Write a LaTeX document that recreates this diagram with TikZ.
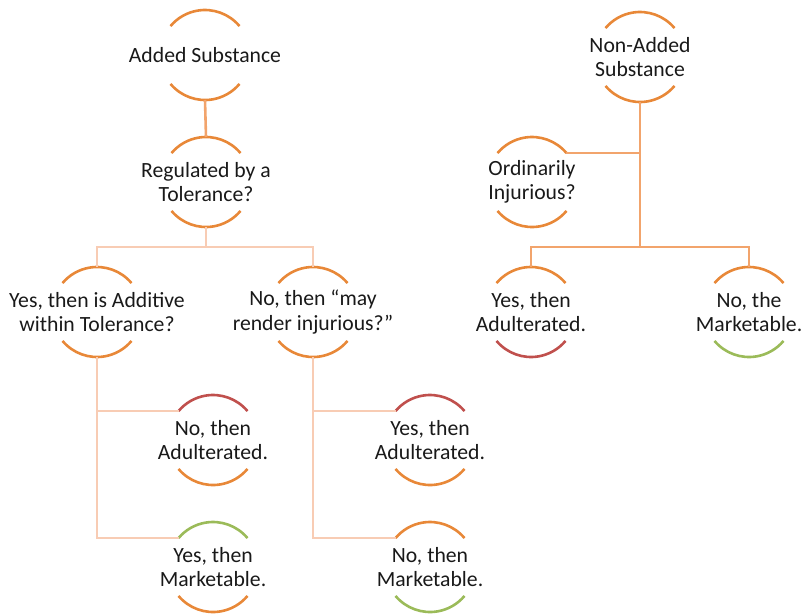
\documentclass[tikz,border=0pt]{standalone}
\usepackage{fontspec}
\setmainfont{Carlito}
\usetikzlibrary{calc}

\definecolor{ringorange}{RGB}{232,136,56}
\definecolor{ringred}{RGB}{192,80,77}
\definecolor{ringgreen}{RGB}{155,187,89}
\definecolor{linkmid}{RGB}{242,164,108}
\definecolor{linklight}{RGB}{248,204,180}
\definecolor{labelink}{RGB}{25,25,25}

\tikzset{
  label text/.style={align=center, text=labelink, inner sep=0pt,
    font=\fontsize{21.7}{24.5}\selectfont},
  ring arc/.style={line width=2.6pt},
  link/.style={line width=2.6pt, linkmid},
  link light/.style={line width=2.6pt, linklight},
}

% A label with an arc above and an arc below it, both parts of one circle of radius 45.
% Also defines the anchors name-top, name-bot, name-tl (upper left arc end), name-tr.
\newcommand\ringnode[5]{%
  \node[label text] (#1) at (#2) {#3};
  \draw[ring arc, #4] ($(#1.center)+(40:45)$) arc (40:140:45);
  \draw[ring arc, #5] ($(#1.center)+(220:45)$) arc (220:320:45);
  \coordinate (#1-top) at ($(#1.center)+(0,45)$);
  \coordinate (#1-bot) at ($(#1.center)+(0,-45)$);
  \coordinate (#1-tl) at ($(#1.center)+(140:45)$);
  \coordinate (#1-tr) at ($(#1.center)+(40:45)$);
}

\begin{document}
\begin{tikzpicture}[x=1pt, y=1pt]
\useasboundingbox (0,0) rectangle (802,-614);

% ---------- added substance ----------
\ringnode{add}{205,-55}{Added Substance}{ringorange}{ringorange}
\ringnode{reg}{206,-182}{Regulated by a\\Tolerance?}{ringorange}{ringorange}
\ringnode{yesadd}{97,-312}{Yes, then is Additive\\within Tolerance?}{ringorange}{ringorange}
\ringnode{nomay}{313,-312}{No, then \char"201C may\\render injurious?\char"201D}{ringorange}{ringorange}
\ringnode{noadul}{213,-440}{No, then\\Adulterated.}{ringred}{ringorange}
\ringnode{yesmkt}{213,-567}{Yes, then\\Marketable.}{ringgreen}{ringorange}
\ringnode{yesadulb}{430,-440}{Yes, then\\Adulterated.}{ringred}{ringorange}
\ringnode{nomkt}{430,-567}{No, then\\Marketable.}{ringorange}{ringgreen}

\coordinate (lbus) at (206,-247);
\draw[link] (add-bot) -- (reg-top);
\draw[link light] (reg-bot) -- (lbus);
\draw[link light] (yesadd-top) |- (lbus) -| (nomay-top);
\draw[link light] (yesadd-bot) |- (yesmkt-tl);
\draw[link light] (yesadd-bot |- noadul-tl) -- (noadul-tl);
\draw[link light] (nomay-bot) |- (nomkt-tl);
\draw[link light] (nomay-bot |- yesadulb-tl) -- (yesadulb-tl);

% ---------- non-added substance ----------
\ringnode{nonadd}{640,-57}{Non-Added\\Substance}{ringorange}{ringorange}
\ringnode{ordin}{532,-182}{Ordinarily\\Injurious?}{ringorange}{ringorange}
\ringnode{yesadulr}{531,-312}{Yes, then\\Adulterated.}{ringorange}{ringred}
\ringnode{nomktr}{749,-312}{No, the\\Marketable.}{ringorange}{ringgreen}

\coordinate (rbus) at (640,-247);
\draw[link] (nonadd-bot) -- (rbus);
\draw[link] (ordin-tr) -- (ordin-tr -| rbus);
\draw[link] (yesadulr-top) |- (rbus) -| (nomktr-top);
\end{tikzpicture}
\end{document}
